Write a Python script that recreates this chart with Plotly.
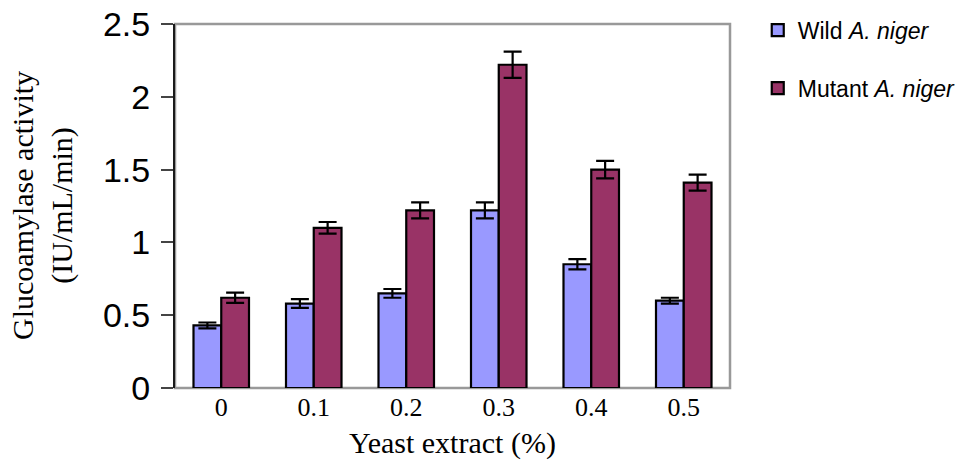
import plotly.graph_objects as go

categories = ["0", "0.1", "0.2", "0.3", "0.4", "0.5"]
wild_values = [0.43, 0.58, 0.65, 1.22, 0.85, 0.60]
wild_errors = [0.02, 0.03, 0.03, 0.055, 0.035, 0.02]
mutant_values = [0.62, 1.10, 1.22, 2.22, 1.50, 1.41]
mutant_errors = [0.035, 0.04, 0.055, 0.09, 0.06, 0.055]
y_ticks = [0, 0.5, 1, 1.5, 2, 2.5]

W, H = 963, 464
L, R, T, B = 175, 233, 24, 76

fig = go.Figure()
fig.add_trace(go.Bar(
    x=categories, y=wild_values, name="Wild <i>A. niger</i>",
    marker=dict(color="#9999FF", line=dict(color="black", width=2.2)),
    error_y=dict(type="data", array=wild_errors, color="black", thickness=2.2, width=9),
    legendgroup="wild",
))
fig.add_trace(go.Bar(
    x=categories, y=mutant_values, name="Mutant <i>A. niger</i>",
    marker=dict(color="#993366", line=dict(color="black", width=2.2)),
    error_y=dict(type="data", array=mutant_errors, color="black", thickness=2.2, width=9),
    legendgroup="mutant",
))

fig.update_layout(
    width=W, height=H,
    margin=dict(l=L, r=R, t=T, b=B, pad=0, autoexpand=False),
    paper_bgcolor="white", plot_bgcolor="white",
    barmode="group", bargap=0.4, bargroupgap=0,
    showlegend=True,
    legend=dict(
        x=1.05, xanchor="left", y=1.042, yanchor="top",
        font=dict(family="Liberation Sans, Arial", size=23, color="black"),
        traceorder="grouped", tracegroupgap=25,
        bgcolor="rgba(0,0,0,0)",
    ),
    xaxis=dict(
        type="category", showgrid=False, showline=False, ticks="",
        tickfont=dict(family="Liberation Serif, Times New Roman", size=26, color="black"),
        ticklabelstandoff=1,
    ),
    yaxis=dict(
        range=[0, 2.5], tickvals=y_ticks, ticktext=[f"{v:g}" for v in y_ticks],
        showgrid=False, zeroline=False,
        showline=True, linecolor="#1a1a1a", linewidth=2,
        ticks="outside", ticklen=12, tickwidth=1.5, tickcolor="#444",
        tickfont=dict(family="Liberation Sans, Arial", size=34, color="black"),
        ticklabelstandoff=4,
    ),
    shapes=[dict(type="rect", xref="paper", yref="paper", x0=0, x1=1, y0=0, y1=1,
                 line=dict(color="#999999", width=2.5), layer="below")],
    annotations=[
        dict(text="Glucoamylase activity<br>(IU/mL/min)", textangle=-90,
             xref="paper", yref="paper", x=0, y=0.5, xshift=-133, xanchor="center", yanchor="middle",
             showarrow=False, font=dict(family="Liberation Serif, Times New Roman", size=30, color="black")),
        dict(text="Yeast extract (%)", xref="paper", yref="paper", x=0.5, y=0, yshift=-55,
             xanchor="center", yanchor="middle", showarrow=False,
             font=dict(family="Liberation Serif, Times New Roman", size=30, color="black")),
    ],
)

fig.write_html("out.html")
